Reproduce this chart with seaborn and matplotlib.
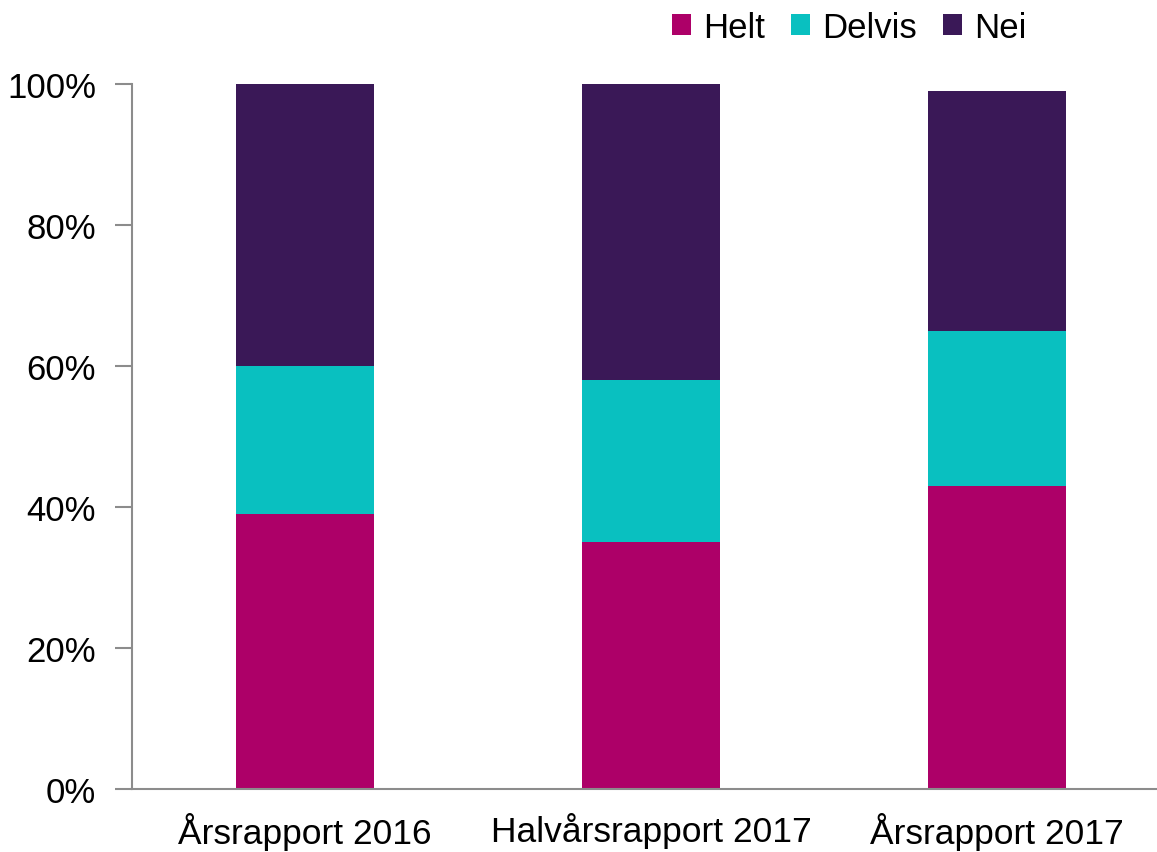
import matplotlib
matplotlib.use("Agg")
import matplotlib.pyplot as plt
import matplotlib.ticker as mtick
from matplotlib.patches import Patch
import seaborn as sns
import pandas as pd

# data (percent)
categories = ["Årsrapport 2016", "Halvårsrapport 2017", "Årsrapport 2017"]
helt = [39, 35, 43]
delvis = [21, 23, 22]
nei = [40, 42, 34]

colors = {"Helt": "#AD0068", "Delvis": "#09C0C0", "Nei": "#3A1857"}

df = pd.DataFrame({"kategori": categories, "Helt": helt, "Delvis": delvis, "Nei": nei})
df["cum_delvis"] = df["Helt"] + df["Delvis"]
df["cum_nei"] = df["cum_delvis"] + df["Nei"]

sns.set_style("white")
plt.rcParams["font.family"] = ["Liberation Sans", "DejaVu Sans"]
plt.rcParams["text.color"] = "black"

fig = plt.figure(figsize=(11.57, 8.53), dpi=100)
ax = fig.add_axes([0.1141, 0.0739, 0.8859, 0.8265])

# stacked by overlaying cumulative totals
sns.barplot(data=df, x="kategori", y="cum_nei", color=colors["Nei"], width=0.40,
            saturation=1, ax=ax, linewidth=0)
sns.barplot(data=df, x="kategori", y="cum_delvis", color=colors["Delvis"], width=0.40,
            saturation=1, ax=ax, linewidth=0)
sns.barplot(data=df, x="kategori", y="Helt", color=colors["Helt"], width=0.40,
            saturation=1, ax=ax, linewidth=0)

ax.set_ylim(0, 100)
ax.set_xlim(-0.5, 2.462)
ax.set_yticks([0, 20, 40, 60, 80, 100])
ax.yaxis.set_major_formatter(mtick.PercentFormatter(decimals=0))
ax.set_xlabel("")
ax.set_ylabel("")

for s in ["top", "right"]:
    ax.spines[s].set_visible(False)
for s in ["left", "bottom"]:
    ax.spines[s].set_color("#8C8C8C")
    ax.spines[s].set_linewidth(1.5)

ax.tick_params(axis="y", which="both", left=True, length=12, width=1.5, color="#8C8C8C",
               labelsize=25, pad=14, labelcolor="black")
ax.tick_params(axis="x", bottom=False, labelsize=25.5, pad=13, labelcolor="black")

handles = [Patch(facecolor=colors[k], edgecolor="none", label=k) for k in ["Helt", "Delvis", "Nei"]]
fig.legend(handles=handles, loc="center", bbox_to_anchor=(849 / 1157, 1 - 28 / 853), ncol=3,
           frameon=False, fontsize=25, handlelength=0.55, handleheight=0.55, handletextpad=0.35,
           columnspacing=0.75, labelcolor="black")

fig.savefig("out.png", dpi=100)
